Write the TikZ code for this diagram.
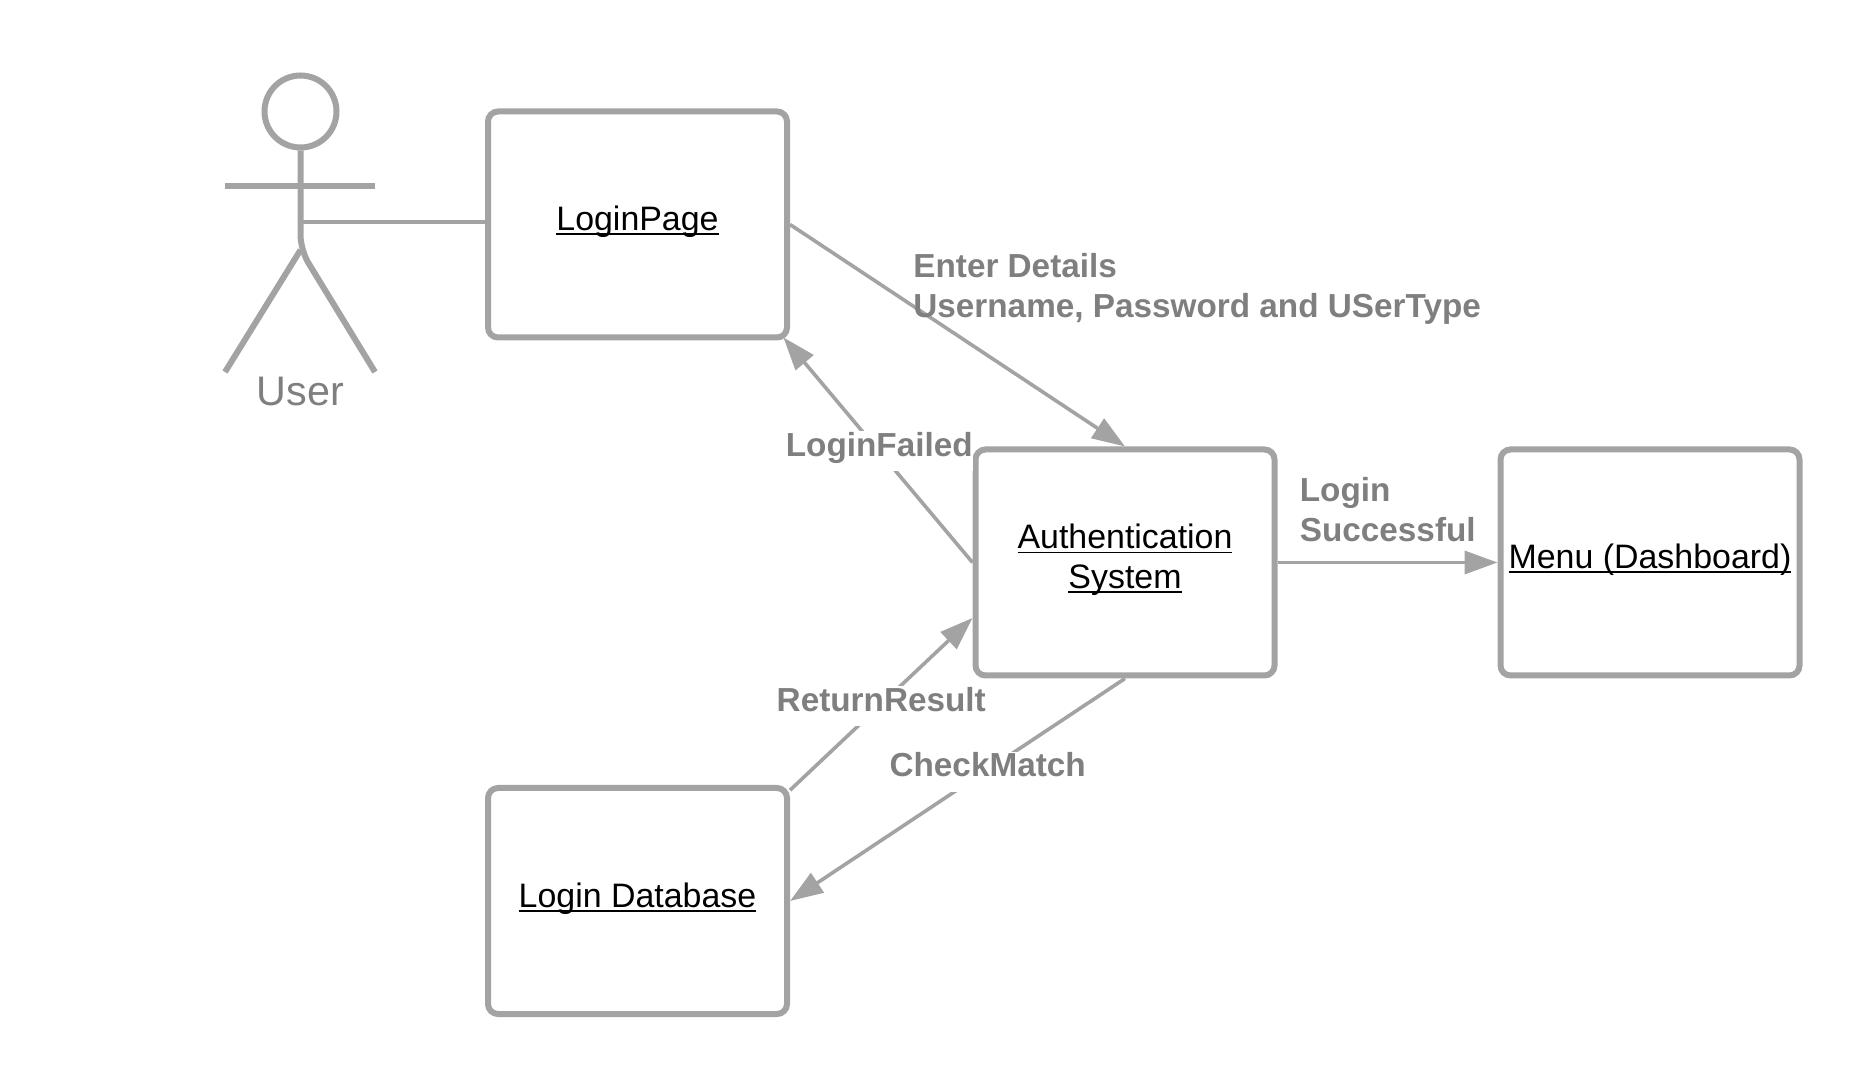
\documentclass[tikz,border=0pt]{standalone}
\usepackage{fontspec}
\setmainfont{Liberation Sans}
\usetikzlibrary{arrows.meta,shapes,positioning}
\definecolor{linegray}{HTML}{A3A3A3}
\definecolor{labelgray}{HTML}{7F7F7F}
\newcommand{\ulabel}[1]{\setbox0\hbox{#1}\rlap{\smash{\rule[-2.6pt]{\wd0}{1.1pt}}}\box0}

\begin{document}
\begin{tikzpicture}[object_box/.style = {draw = linegray, line width = 0.12cm, rounded corners = 0.2cm, fill = white,
                        minimum width = 5.98cm, minimum height = 4.52cm, align = center, inner sep = 0, text depth = 6.8pt,
                        font = \fontsize{19.3}{22.7}\selectfont},
                        actor_line/.style = {draw = linegray, line width = 0.12cm},
                        link/.style = {color = linegray, line width = 0.072cm},
                        message/.style = {link, -{Triangle[length = 0.66cm, width = 0.46cm]}},
                        msg_label/.style = {color = labelgray, align = left, inner sep = 0.03cm,
                        font = \fontsize{18.95}{22.7}\selectfont\bfseries},
                        gap_label/.style = {msg_label, fill = white, inner sep = 0, text height = 0.5cm, text depth = 0.3cm}]
        \useasboundingbox (0,0) rectangle (37.5,21.76);
        %objects
        \node[object_box] (LoginPage) at (12.75,17.27) {\ulabel{LoginPage}};
        \node[object_box] (Authentication) at (22.5,10.51) {\ulabel{Authentication}\\\ulabel{System}};
        \node[object_box] (Menu) at (33,10.51) {\ulabel{Menu (Dashboard)}};
        \node[object_box] (LoginDatabase) at (12.75,3.74) {\ulabel{Login Database}};
        %actor
        \node[circle, actor_line, minimum size = 1.44cm, inner sep = 0] (UserHead) at (6.01,19.53) {};
        \coordinate (UserHip) at (6.01,16.76);
        \coordinate (UserBody) at (6.01,17.32);
        \coordinate (UserHandL) at (4.5,18.04);
        \coordinate (UserHandR) at (7.5,18.04);
        \coordinate (UserFootL) at (4.5,14.32);
        \coordinate (UserFootR) at (7.5,14.32);
        \draw[actor_line, rounded corners = 0.3cm] (UserHead.south) -- (UserHip) -- (UserFootR);
        \draw[actor_line] (UserHip) -- (UserFootL);
        \draw[actor_line] (UserHandL) -- (UserHandR);
        \node[color = labelgray, inner sep = 0, font = \fontsize{23.5}{27}\selectfont] (UserLabel) at (6.01,13.93) {User};
        %connectors
        \draw[link] (UserBody) -- (UserBody -| LoginPage.west);
        \draw[message] (LoginPage.east) -- (Authentication.north);
        \draw[message, shorten >= -0.08cm] (Authentication.west) -- (LoginPage.-38) node[gap_label, pos = 0.5] (LoginFailed) {LoginFailed};
        \draw[message] (LoginDatabase.36) -- (Authentication.200) node[gap_label, pos = 0.5, yshift = -0.04cm] (ReturnResult) {ReturnResult};
        \draw[message] (Authentication.south) -- (LoginDatabase.east) node[gap_label, pos = 0.41, yshift = -0.04cm] (CheckMatch) {CheckMatch};
        \draw[message] (Authentication.east) -- (Menu.west);
        %labels without a gap
        \node[msg_label, anchor = west] (EnterDetails) at (18.23,15.98) {Enter Details\\Username, Password and USerType};
        \node[msg_label, anchor = west] (LoginSuccessful) at (25.96,11.56) {Login\\Successful};
    \end{tikzpicture}
\end{document}
